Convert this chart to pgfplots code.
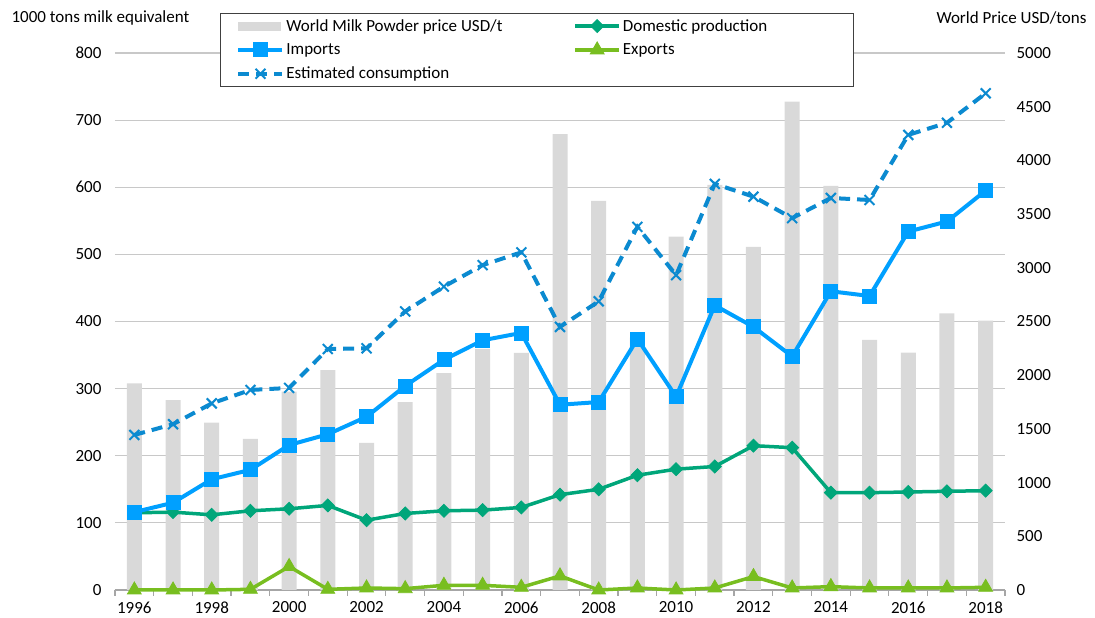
\documentclass[border=0pt]{standalone}
\usepackage{fontspec}
\setmainfont{Carlito}
\usepackage{pgfplots}
\usepackage{pgfplotstable}
\pgfplotsset{compat=1.18}

\definecolor{bargray}{HTML}{D9D9D9}
\definecolor{gridgray}{HTML}{C8C8C8}
\definecolor{axisgray}{HTML}{A6A6A6}
\definecolor{impblue}{HTML}{00A0FF}
\definecolor{consblue}{HTML}{0B8AD0}
\definecolor{domgreen}{HTML}{00A67A}
\definecolor{expgreen}{HTML}{78BE20}

% year, world price (USD/t), imports, domestic production, exports, consumption (1000 t)
\pgfplotstableread{
year price imp  dom exp cons
1996 1924 116 115 0  231
1997 1769 130 116 0  247
1998 1558 165 112 0  278
1999 1406 179 118 1  298
2000 1846 216 121 35 301
2001 2048 232 126 1  359
2002 1369 258 104 3  360
2003 1750 304 114 2  415
2004 2020 343 118 7  452
2005 2244 372 119 7  484
2006 2207 383 123 4  503
2007 4245 276 142 21 392
2008 3622 280 150 0  430
2009 2350 374 171 3  541
2010 3290 288 180 0  469
2011 3771 424 184 3  605
2012 3194 392 215 20 586
2013 4547 348 212 3  554
2014 3762 445 145 5  584
2015 2328 438 145 3  581
2016 2210 534 146 3  678
2017 2576 549 147 3  696
2018 2508 595 148 4  740
}\milk

\newcommand{\fs}{\fontsize{17}{20}\selectfont}

\pgfplotsset{
  every axis/.append style={
    scale only axis, width=890pt, height=537pt,
    at={(0pt,0pt)}, anchor=south west,
    xmin=1995.5, xmax=2018.5,
    tick label style={font=\fs, text=black},
    /pgf/number format/assume math mode=true,
  },
  lineleg/.style={legend image code/.code={
    \draw[mark repeat=2,mark phase=2] plot coordinates {(0pt,0pt) (22pt,0pt) (44pt,0pt)};}},
}

\begin{document}
\begin{tikzpicture}
\path[use as bounding box] (-115pt,-28pt) rectangle (980pt,590pt);

% left scale: grid, x axis and labels
\begin{axis}[
  ymin=0, ymax=800,
  axis x line*=bottom, axis y line*=left,
  x axis line style={-, draw=axisgray, line width=1.2pt},
  y axis line style={draw=none},
  ytick={0,100,...,800},
  ymajorgrids, grid style={gridgray, line width=1.2pt},
  xtick={1996,1998,...,2018},
  minor xtick={1995.5,1996.5,...,2018.5},
  major tick length=0pt, minor tick length=6pt,
  tick align=outside,
  minor tick style={axisgray, line width=1.2pt},
  xticklabel style={/pgf/number format/1000 sep={}, yshift=-8pt},
  yticklabel style={xshift=-10pt},
]
\end{axis}

% right scale: world milk powder price bars
\begin{axis}[
  ymin=0, ymax=5000,
  axis x line=none, axis y line*=right,
  y axis line style={draw=none},
  ytick={0,500,...,5000},
  major tick length=0pt,
  yticklabel style={/pgf/number format/1000 sep={}, xshift=8pt},
]
\addplot[ybar, bar width=15pt, fill=bargray, draw=none] table[x=year, y=price] {\milk};
\end{axis}

% left scale: lines
\begin{axis}[
  ymin=0, ymax=800, hide axis, clip=false,
  legend columns=2,
  legend cell align=left,
  legend style={at={(0.118,1.0745)}, anchor=north west, font=\fs,
    draw=black!75, line width=0.8pt, inner xsep=16pt, inner ysep=4pt,
    row sep=7pt,
    /tikz/every even column/.append style={column sep=0pt}},
]
\addlegendimage{legend image code/.code={\fill[bargray] (0pt,-4pt) rectangle (42pt,4pt);}}
\addlegendentry{\makebox[285pt][l]{World Milk Powder price USD/t}}
\addplot[lineleg, domgreen, line width=3.5pt, mark=square*, mark size=4.6pt,
  mark options={rotate=45, line width=0.8pt}] table[x=year, y=dom] {\milk};
\addlegendentry{\makebox[212pt][l]{Domestic production}}
\addplot[lineleg, impblue, line width=4pt, mark=square*, mark size=7pt,
  mark options={line width=0.8pt}] table[x=year, y=imp] {\milk};
\addlegendentry{Imports}
\addplot[lineleg, expgreen, line width=3.5pt, mark=triangle*, mark size=8pt,
  mark options={line width=0.8pt}] table[x=year, y=exp] {\milk};
\addlegendentry{Exports}
\addplot[lineleg, consblue, line width=4pt, dash pattern=on 11pt off 7pt, mark=x, mark size=7pt,
  mark options={solid, line width=2pt}] table[x=year, y=cons] {\milk};
\addlegendentry{Estimated consumption}
\end{axis}

\node[anchor=west, font=\fs] at (-107pt,572pt) {1000 tons milk equivalent};
\node[anchor=east, font=\fs] at (975pt,572pt) {World Price USD/tons};
\end{tikzpicture}
\end{document}
